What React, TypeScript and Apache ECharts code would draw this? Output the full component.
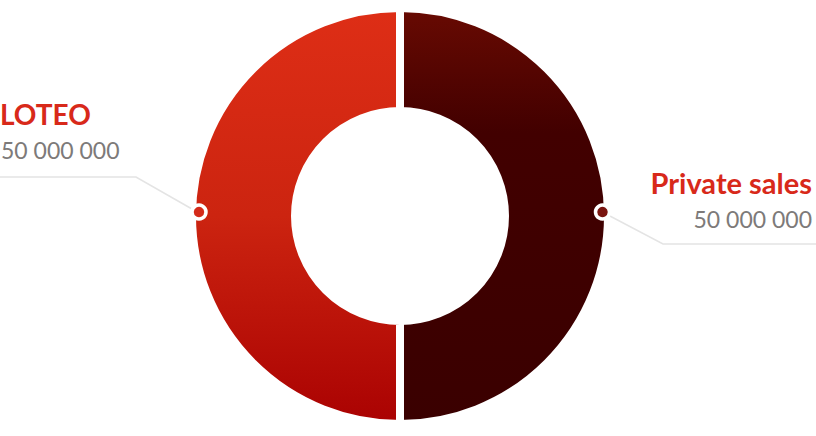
import React, { useEffect, useRef } from "react";
import * as echarts from "echarts";

const names = ["Private sales", "LOTEO"];
const values = [50000000, 50000000];

const fmt = (v: number) => String(v).replace(/\B(?=(\d{3})+(?!\d))/g, " ");

export default function App() {
  const ref = useRef<HTMLDivElement>(null);
  useEffect(() => {
    document.body.style.margin = "0";
    const chart = echarts.init(ref.current!, null, { renderer: "svg" });
    const colors = [
      new echarts.graphic.LinearGradient(0, 0, 0, 1, [
        { offset: 0, color: "#680a02" },
        { offset: 0.3, color: "#420000" },
        { offset: 1, color: "#3a0000" },
      ]),
      new echarts.graphic.LinearGradient(0, 0, 0, 1, [
        { offset: 0, color: "#de2e16" },
        { offset: 0.5, color: "#cc2410" },
        { offset: 1, color: "#aa0202" },
      ]),
    ];
    const red = "#d8291a";
    const gray = "#7d7a79";
    const font = "Lato, 'Open Sans', sans-serif";
    chart.setOption({
      animation: false,
      series: [
        {
          type: "pie",
          center: [400, 216],
          radius: [105, 208],
          startAngle: 90,
          clockwise: true,
          silent: true,
          z: 2,
          label: { show: false },
          labelLine: { show: false },
          itemStyle: { borderColor: "#ffffff", borderWidth: 8 },
          data: names.map((n, i) => ({
            name: n,
            value: values[i],
            itemStyle: { color: colors[i] },
          })),
        },
      ],
      graphic: [
        {
          type: "group",
          z: 100,
          children: [
            {
              type: "polyline",
              z: 100,
              shape: { points: [[192, 209], [136, 177], [0, 177]] },
              style: { stroke: "#e4e4e4", lineWidth: 1.5, fill: null },
            },
            {
              type: "polyline",
              z: 100,
              shape: { points: [[608, 215], [663, 244], [816, 244]] },
              style: { stroke: "#e4e4e4", lineWidth: 1.5, fill: null },
            },
            {
              type: "circle",
              z: 101,
              shape: { cx: 199, cy: 212, r: 7 },
              style: { fill: "#d42b1a", stroke: "#ffffff", lineWidth: 3.5 },
            },
            {
              type: "circle",
              z: 101,
              shape: { cx: 602.5, cy: 212, r: 7 },
              style: { fill: "#7a1510", stroke: "#ffffff", lineWidth: 3.5 },
            },
            {
              type: "text",
              z: 101,
              x: 0,
              y: 114,
              style: {
                text: names[1],
                font: `bold 28px ${font}`,
                fill: red,
                textAlign: "left",
                textVerticalAlign: "middle",
              },
            },
            {
              type: "text",
              z: 101,
              x: 1,
              y: 150,
              style: {
                text: fmt(values[1]),
                font: `23px ${font}`,
                fill: gray,
                textAlign: "left",
                textVerticalAlign: "middle",
              },
            },
            {
              type: "text",
              z: 101,
              x: 812,
              y: 182,
              style: {
                text: names[0],
                font: `bold 29px ${font}`,
                fill: red,
                textAlign: "right",
                textVerticalAlign: "middle",
              },
            },
            {
              type: "text",
              z: 101,
              x: 812,
              y: 219,
              style: {
                text: fmt(values[0]),
                font: `23px ${font}`,
                fill: gray,
                textAlign: "right",
                textVerticalAlign: "middle",
              },
            },
          ],
        },
      ],
    });
    return () => chart.dispose();
  }, []);
  return <div ref={ref} style={{ width: 816, height: 436 }} />;
}
